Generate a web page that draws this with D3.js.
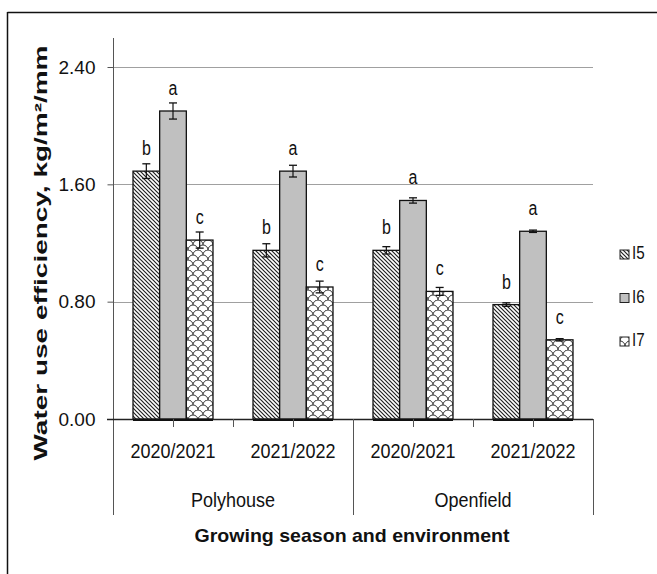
<!DOCTYPE html>
<html>
<head>
<meta charset="utf-8">
<script src="https://cdn.jsdelivr.net/npm/d3@7"></script>
<style>
  body { margin: 0; background: #fff; }
  text { font-family: "Liberation Sans", Arial, sans-serif; fill: #111; }
</style>
</head>
<body>
<div id="chart"></div>
<script>
const seasons = ["2020/2021", "2021/2022", "2020/2021", "2021/2022"];
const environments = ["Polyhouse", "Openfield"];
const treatments = ["I5", "I6", "I7"];
const i5 = [1.69, 1.15, 1.15, 0.78];
const i6 = [2.10, 1.69, 1.49, 1.28];
const i7 = [1.22, 0.90, 0.87, 0.54];
const i5Err = [0.05, 0.045, 0.025, 0.012];
const i6Err = [0.055, 0.04, 0.018, 0.008];
const i7Err = [0.055, 0.04, 0.027, 0.008];
const i5Letters = ["b", "b", "b", "b"];
const i6Letters = ["a", "a", "a", "a"];
const i7Letters = ["c", "c", "c", "c"];
const yTicks = [0, 0.8, 1.6, 2.4];

const width = 657, height = 574;
const plot = { left: 113, right: 593, top: 67, bottom: 419 };

const svg = d3.select("#chart").append("svg")
  .attr("width", width).attr("height", height);

svg.append("rect").attr("width", width).attr("height", height).attr("fill", "#fff");

// patterns
const defs = svg.append("defs");
const hatch = defs.append("pattern").attr("id", "hatch")
  .attr("patternUnits", "userSpaceOnUse").attr("width", 4).attr("height", 4);
hatch.append("rect").attr("width", 4).attr("height", 4).attr("fill", "#fff");
hatch.append("path").attr("d", "M-1,-1L5,5M-1,3L1,5M3,-1L5,1")
  .attr("stroke", "#222").attr("stroke-width", 1.2);

const wave = defs.append("pattern").attr("id", "wave")
  .attr("patternUnits", "userSpaceOnUse").attr("width", 10).attr("height", 10);
wave.append("rect").attr("width", 10).attr("height", 10).attr("fill", "#fff");
wave.append("path")
  .attr("d", "M0,5A5,5 0 0 1 10,5M-5,10A5,5 0 0 1 5,10M5,10A5,5 0 0 1 15,10M-5,0A5,5 0 0 1 5,0M5,0A5,5 0 0 1 15,0")
  .attr("fill", "none").attr("stroke", "#333").attr("stroke-width", 1);

const fills = ["url(#hatch)", "#c0c0c0", "url(#wave)"];
const values = [i5, i6, i7];
const errors = [i5Err, i6Err, i7Err];
const letters = [i5Letters, i6Letters, i7Letters];

// outer frame (top and left edges visible)
svg.append("line").attr("x1", 7.5).attr("x2", width).attr("y1", 12.5).attr("y2", 12.5)
  .attr("stroke", "#111").attr("stroke-width", 1.5);
svg.append("line").attr("x1", 7.5).attr("x2", 7.5).attr("y1", 12).attr("y2", height)
  .attr("stroke", "#111").attr("stroke-width", 1.5);

const y = d3.scaleLinear().domain([0, 2.4]).range([plot.bottom, plot.top]);
const x0 = d3.scaleBand().domain(d3.range(seasons.length)).range([plot.left, plot.right]);
const x1 = d3.scaleBand().domain(treatments).range([x0.bandwidth() / 6, x0.bandwidth() * 5 / 6]);

// gridlines
svg.append("g").selectAll("line").data(yTicks.filter(d => d > 0)).join("line")
  .attr("x1", plot.left).attr("x2", plot.right)
  .attr("y1", d => Math.round(y(d)) + 0.5).attr("y2", d => Math.round(y(d)) + 0.5)
  .attr("stroke", "#a0a0a0").attr("stroke-width", 1);

// y axis
const yAxis = svg.append("g").attr("transform", `translate(${plot.left + 0.5},0)`)
  .call(d3.axisLeft(y).tickValues(yTicks).tickFormat(d3.format(".2f")).tickSize(6).tickSizeOuter(0));
yAxis.select(".domain").remove();
yAxis.selectAll(".tick line").attr("stroke", "#555");
yAxis.selectAll(".tick text").attr("x", -18).style("font-size", "19px").attr("fill", "#111");
svg.append("line").attr("x1", plot.left + 0.5).attr("x2", plot.left + 0.5)
  .attr("y1", 38).attr("y2", 515).attr("stroke", "#555");

// bars
const groups = svg.append("g").selectAll("g").data(d3.range(seasons.length)).join("g")
  .attr("transform", i => `translate(${x0(i)},0)`);

treatments.forEach((t, k) => {
  groups.append("rect")
    .attr("x", x1(t)).attr("width", x1.bandwidth())
    .attr("y", i => y(values[k][i])).attr("height", i => y(0) - y(values[k][i]))
    .attr("fill", fills[k]).attr("stroke", "#111").attr("stroke-width", 1.3);

  const cx = x1(t) + x1.bandwidth() / 2;
  groups.append("line")
    .attr("x1", cx).attr("x2", cx)
    .attr("y1", i => y(values[k][i] + errors[k][i])).attr("y2", i => y(values[k][i] - errors[k][i]))
    .attr("stroke", "#111").attr("stroke-width", 1.2);
  [1, -1].forEach(s => {
    groups.append("line")
      .attr("x1", cx - 4).attr("x2", cx + 4)
      .attr("y1", i => y(values[k][i] + s * errors[k][i])).attr("y2", i => y(values[k][i] + s * errors[k][i]))
      .attr("stroke", "#111").attr("stroke-width", 1.3);
  });

  groups.append("text")
    .attr("transform", i => `translate(${cx},${y(values[k][i]) - 16}) scale(0.8,1)`)
    .attr("text-anchor", "middle").style("font-size", "20px").attr("fill", "#222")
    .text(i => letters[k][i]);
});

// x axis baseline and ticks
svg.append("line").attr("x1", plot.left - 6).attr("x2", plot.right)
  .attr("y1", y(0) + 0.5).attr("y2", y(0) + 0.5).attr("stroke", "#222").attr("stroke-width", 1.3);
svg.selectAll(".bottom-bar").data(d3.range(seasons.length)).join("line")
  .attr("x1", i => x0(i) + x0.bandwidth() / 6).attr("x2", i => x0(i) + x0.bandwidth() * 5 / 6)
  .attr("y1", y(0) + 1).attr("y2", y(0) + 1).attr("stroke", "#111").attr("stroke-width", 2);

// small ticks at category centres and inside-group boundaries
const tickXs = [];
d3.range(seasons.length).forEach(i => {
  tickXs.push(x0(i) + x0.bandwidth() / 2);
  if (i % 2 === 1) tickXs.push(x0(i));
});
svg.append("g").selectAll("line").data(tickXs).join("line")
  .attr("x1", d => Math.round(d) + 0.5).attr("x2", d => Math.round(d) + 0.5)
  .attr("y1", y(0)).attr("y2", y(0) + 8).attr("stroke", "#555");

// group dividers
[x0(2), plot.right].forEach(v => {
  svg.append("line").attr("x1", Math.round(v) + 0.5).attr("x2", Math.round(v) + 0.5)
    .attr("y1", y(0)).attr("y2", 515).attr("stroke", "#555");
});

// category labels
svg.append("g").selectAll("text").data(d3.range(seasons.length)).join("text")
  .attr("transform", i => `translate(${x0(i) + x0.bandwidth() / 2},458) scale(0.9,1)`)
  .attr("text-anchor", "middle").style("font-size", "20px")
  .text(i => seasons[i]);

svg.append("g").selectAll("text").data(environments).join("text")
  .attr("transform", (d, j) => `translate(${x0(j * 2) + x0.bandwidth()},507) scale(0.9,1)`)
  .attr("text-anchor", "middle").style("font-size", "20px")
  .text(d => d);

// axis titles
svg.append("text")
  .attr("x", 352).attr("y", 542).attr("text-anchor", "middle")
  .attr("textLength", 315).attr("lengthAdjust", "spacingAndGlyphs")
  .style("font-size", "19px").style("font-weight", "bold")
  .text("Growing season and environment");

svg.append("text")
  .attr("transform", "translate(47,253) rotate(-90)")
  .attr("text-anchor", "middle")
  .attr("textLength", 415).attr("lengthAdjust", "spacingAndGlyphs")
  .style("font-size", "18px").style("font-weight", "bold")
  .text("Water use efficiency, kg/m²/mm");

// legend
const legend = svg.append("g").selectAll("g").data(treatments).join("g")
  .attr("transform", (d, k) => `translate(620,${259 + k * 43.5})`);
legend.append("rect").attr("x", 0).attr("y", -9).attr("width", 9).attr("height", 9)
  .attr("fill", (d, k) => fills[k]).attr("stroke", "#222").attr("stroke-width", 1);
legend.append("text").attr("transform", "translate(12,0) scale(0.8,1)")
  .style("font-size", "19px").attr("fill", "#222").text(d => d);
</script>
</body>
</html>
